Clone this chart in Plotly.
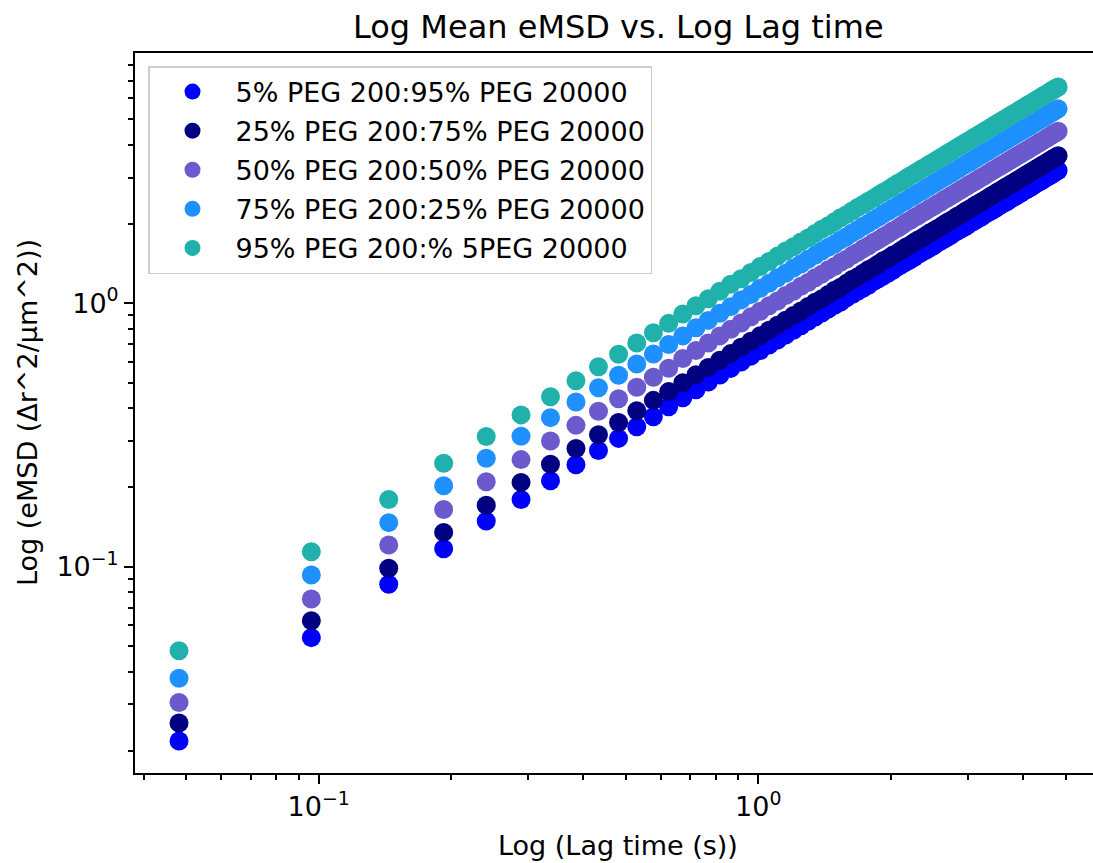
import plotly.graph_objects as go

# Lag times (s)
lag_time = [
    0.0481, 0.0962, 0.1443, 0.1924, 0.2405, 0.2886, 0.3367, 0.3848, 0.4329, 0.4810,
    0.5291, 0.5772, 0.6253, 0.6734, 0.7215, 0.7696, 0.8177, 0.8658, 0.9139, 0.9620,
    1.0101, 1.0582, 1.1063, 1.1544, 1.2025, 1.2506, 1.2987, 1.3468, 1.3949, 1.4430,
    1.4911, 1.5392, 1.5873, 1.6354, 1.6835, 1.7316, 1.7797, 1.8278, 1.8759, 1.9240,
    1.9721, 2.0202, 2.0683, 2.1164, 2.1645, 2.2126, 2.2607, 2.3088, 2.3569, 2.4050,
    2.4531, 2.5012, 2.5493, 2.5974, 2.6455, 2.6936, 2.7417, 2.7898, 2.8379, 2.8860,
    2.9341, 2.9822, 3.0303, 3.0784, 3.1265, 3.1746, 3.2227, 3.2708, 3.3189, 3.3670,
    3.4151, 3.4632, 3.5113, 3.5594, 3.6075, 3.6556, 3.7037, 3.7518, 3.7999, 3.8480,
    3.8961, 3.9442, 3.9923, 4.0404, 4.0885, 4.1366, 4.1847, 4.2328, 4.2809, 4.3290,
    4.3771, 4.4252, 4.4733, 4.5214, 4.5695, 4.6176, 4.6657, 4.7138, 4.7619, 4.8100,
]

emsd_5 = [
    0.0218, 0.0538, 0.0858, 0.117, 0.149, 0.180, 0.212, 0.244, 0.276, 0.307,
    0.340, 0.371, 0.405, 0.438, 0.470, 0.502, 0.534, 0.566, 0.598, 0.630,
    0.662, 0.694, 0.726, 0.758, 0.790, 0.822, 0.854, 0.886, 0.918, 0.950,
    0.982, 1.01, 1.05, 1.08, 1.11, 1.14, 1.17, 1.21, 1.24, 1.27,
    1.30, 1.33, 1.37, 1.40, 1.43, 1.46, 1.49, 1.53, 1.56, 1.59,
    1.62, 1.65, 1.69, 1.72, 1.75, 1.78, 1.81, 1.85, 1.88, 1.91,
    1.94, 1.97, 2.01, 2.04, 2.07, 2.10, 2.13, 2.17, 2.20, 2.23,
    2.26, 2.29, 2.33, 2.36, 2.39, 2.42, 2.45, 2.49, 2.52, 2.55,
    2.58, 2.61, 2.65, 2.68, 2.71, 2.74, 2.77, 2.81, 2.84, 2.87,
    2.90, 2.93, 2.97, 3.00, 3.03, 3.06, 3.09, 3.13, 3.16, 3.19,
]

emsd_25 = [
    0.0255, 0.0624, 0.0986, 0.135, 0.171, 0.209, 0.245, 0.281, 0.317, 0.353,
    0.391, 0.428, 0.462, 0.499, 0.535, 0.571, 0.608, 0.644, 0.681, 0.717,
    0.753, 0.790, 0.826, 0.863, 0.899, 0.935, 0.972, 1.01, 1.04, 1.08,
    1.12, 1.15, 1.19, 1.23, 1.26, 1.30, 1.34, 1.37, 1.41, 1.45,
    1.48, 1.52, 1.55, 1.59, 1.63, 1.66, 1.70, 1.74, 1.77, 1.81,
    1.85, 1.88, 1.92, 1.95, 1.99, 2.03, 2.06, 2.10, 2.14, 2.17,
    2.21, 2.25, 2.28, 2.32, 2.36, 2.39, 2.43, 2.46, 2.50, 2.54,
    2.57, 2.61, 2.65, 2.68, 2.72, 2.76, 2.79, 2.83, 2.86, 2.90,
    2.94, 2.97, 3.01, 3.05, 3.08, 3.12, 3.16, 3.19, 3.23, 3.27,
    3.30, 3.34, 3.37, 3.41, 3.45, 3.48, 3.52, 3.56, 3.59, 3.63,
]

emsd_50 = [
    0.0305, 0.0754, 0.121, 0.165, 0.210, 0.255, 0.300, 0.344, 0.389, 0.434,
    0.480, 0.524, 0.567, 0.617, 0.662, 0.707, 0.752, 0.797, 0.842, 0.888,
    0.933, 0.978, 1.02, 1.07, 1.11, 1.16, 1.20, 1.25, 1.29, 1.34,
    1.38, 1.43, 1.47, 1.52, 1.56, 1.61, 1.65, 1.70, 1.74, 1.79,
    1.83, 1.88, 1.92, 1.97, 2.02, 2.06, 2.11, 2.15, 2.20, 2.24,
    2.29, 2.33, 2.38, 2.42, 2.47, 2.51, 2.56, 2.60, 2.65, 2.69,
    2.74, 2.78, 2.83, 2.87, 2.92, 2.96, 3.01, 3.05, 3.10, 3.14,
    3.19, 3.23, 3.28, 3.32, 3.37, 3.41, 3.46, 3.50, 3.55, 3.59,
    3.64, 3.68, 3.73, 3.77, 3.82, 3.86, 3.91, 3.95, 4.00, 4.04,
    4.09, 4.13, 4.18, 4.22, 4.27, 4.32, 4.36, 4.41, 4.45, 4.50,
]

emsd_75 = [
    0.0377, 0.093, 0.147, 0.203, 0.258, 0.313, 0.368, 0.422, 0.478, 0.533,
    0.588, 0.642, 0.697, 0.752, 0.807, 0.861, 0.916, 0.971, 1.03, 1.08,
    1.14, 1.19, 1.25, 1.30, 1.36, 1.41, 1.47, 1.52, 1.58, 1.63,
    1.68, 1.74, 1.79, 1.85, 1.90, 1.96, 2.01, 2.07, 2.12, 2.18,
    2.23, 2.29, 2.34, 2.40, 2.45, 2.51, 2.56, 2.62, 2.67, 2.73,
    2.78, 2.84, 2.89, 2.95, 3.00, 3.06, 3.11, 3.17, 3.22, 3.28,
    3.33, 3.39, 3.44, 3.50, 3.55, 3.61, 3.66, 3.72, 3.77, 3.83,
    3.88, 3.94, 3.99, 4.05, 4.10, 4.16, 4.21, 4.27, 4.32, 4.38,
    4.43, 4.49, 4.54, 4.60, 4.65, 4.70, 4.76, 4.81, 4.87, 4.92,
    4.98, 5.03, 5.09, 5.14, 5.20, 5.25, 5.31, 5.36, 5.42, 5.47,
]

emsd_95 = [
    0.048, 0.114, 0.180, 0.247, 0.312, 0.377, 0.442, 0.508, 0.574, 0.640,
    0.707, 0.773, 0.839, 0.911, 0.978, 1.04, 1.11, 1.18, 1.24, 1.31,
    1.38, 1.44, 1.51, 1.58, 1.64, 1.71, 1.77, 1.84, 1.91, 1.97,
    2.04, 2.11, 2.17, 2.24, 2.31, 2.37, 2.44, 2.50, 2.57, 2.64,
    2.70, 2.77, 2.84, 2.90, 2.97, 3.04, 3.10, 3.17, 3.24, 3.30,
    3.37, 3.43, 3.50, 3.57, 3.63, 3.70, 3.77, 3.83, 3.90, 3.97,
    4.03, 4.10, 4.16, 4.23, 4.30, 4.36, 4.43, 4.50, 4.56, 4.63,
    4.70, 4.76, 4.83, 4.90, 4.96, 5.03, 5.09, 5.16, 5.23, 5.29,
    5.36, 5.43, 5.49, 5.56, 5.63, 5.69, 5.76, 5.82, 5.89, 5.96,
    6.02, 6.09, 6.16, 6.22, 6.29, 6.36, 6.42, 6.49, 6.56, 6.62,
]

series_names = [
    "5% PEG 200:95% PEG 20000",
    "25% PEG 200:75% PEG 20000",
    "50% PEG 200:50% PEG 20000",
    "75% PEG 200:25% PEG 20000",
    "95% PEG 200:% 5PEG 20000",
]
series_values = [emsd_5, emsd_25, emsd_50, emsd_75, emsd_95]
series_colors = ["#0000ff", "#000080", "#6a5acd", "#1e90ff", "#20b2aa"]

x_major = [0.1, 1]
x_major_text = ["10<sup>\u22121</sup>", "10<sup>0</sup>"]
y_major = [0.1, 1]
y_major_text = ["10<sup>\u22121</sup>", "10<sup>0</sup>"]
x_minor = [0.04, 0.05, 0.06, 0.07, 0.08, 0.09, 0.2, 0.3, 0.4, 0.5, 0.6, 0.7, 0.8, 0.9, 2, 3, 4, 5]
y_minor = [0.02, 0.03, 0.04, 0.05, 0.06, 0.07, 0.08, 0.09, 0.2, 0.3, 0.4, 0.5, 0.6, 0.7, 0.8, 0.9,
           2, 3, 4, 5, 6, 7, 8]

title_text = "Log Mean eMSD vs. Log Lag time"
x_title = "Log (Lag time (s))"
y_title = "Log (eMSD (\u0394r^2/\u03bcm^2))"

FONT = "DejaVu Sans"
W, H = 1093, 863
L, R, T, B = 135, 0, 53, 90
PW, PH = W - L - R, H - T - B

fig = go.Figure()
for i, (name, vals, col) in enumerate(zip(series_names, series_values, series_colors)):
    fig.add_trace(go.Scatter(
        x=lag_time, y=vals, mode="markers", name=name,
        legendgroup=f"g{i}",
        marker=dict(color=col, size=19, line=dict(width=0)),
    ))

axis_common = dict(
    type="log", showgrid=False, zeroline=False, automargin=False,
    showline=True, linecolor="black", linewidth=2,
    ticks="outside", ticklen=9, tickwidth=2, tickcolor="black",
    tickmode="array",
    tickfont=dict(family=FONT, size=27, color="black"),
)

fig.update_layout(
    width=W, height=H,
    margin=dict(l=L, r=R, t=T, b=B),
    paper_bgcolor="white", plot_bgcolor="white",
    font=dict(family=FONT, size=27, color="black"),
    xaxis=dict(axis_common, range=[-1.418, 0.7615], tickvals=x_major, ticktext=x_major_text,
               mirror=True,
               minor=dict(tickmode="array", tickvals=x_minor, ticks="outside", ticklen=5,
                          tickwidth=1.5, tickcolor="black", showgrid=False)),
    yaxis=dict(axis_common, range=[-1.783, 0.950], tickvals=y_major, ticktext=y_major_text,
               mirror=False,
               minor=dict(tickmode="array", tickvals=y_minor, ticks="outside", ticklen=5,
                          tickwidth=1.5, tickcolor="black", showgrid=False)),
    legend=dict(x=(148 - L) / PW, y=(H - B - 66) / PH, xanchor="left", yanchor="top",
                bgcolor="rgba(255,255,255,0.8)", bordercolor="#cccccc", borderwidth=1.5,
                font=dict(family=FONT, size=27, color="black"),
                traceorder="grouped", tracegroupgap=1, itemwidth=76),
    showlegend=True,
    annotations=[
        dict(text=title_text, xref="paper", yref="paper",
             x=(618 - L) / PW, y=(H - B - 27) / PH,
             xanchor="center", yanchor="middle", showarrow=False,
             font=dict(family=FONT, size=32, color="black")),
        dict(text=x_title, xref="paper", yref="paper",
             x=(618 - L) / PW, y=-(845 - (H - B)) / PH,
             xanchor="center", yanchor="middle", showarrow=False,
             font=dict(family=FONT, size=27, color="black")),
        dict(text=y_title, xref="paper", yref="paper", textangle=-90,
             x=-(L - 27) / PW, y=(H - B - 413) / PH,
             xanchor="center", yanchor="middle", showarrow=False,
             font=dict(family=FONT, size=27, color="black")),
    ],
)

fig.write_html(
    "out.html",
    config={"displayModeBar": False},
    post_script="document.body.style.margin='0';document.body.style.padding='0';"
                "document.documentElement.style.overflow='hidden';",
)
